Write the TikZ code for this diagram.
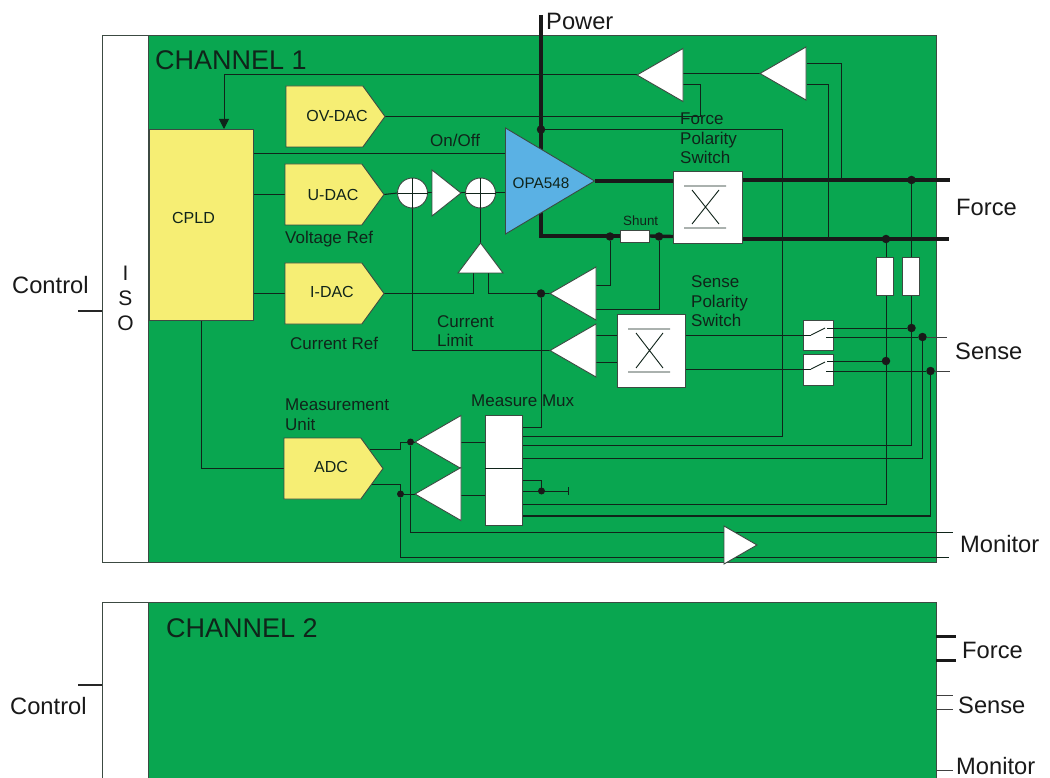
\documentclass[tikz,border=0pt]{standalone}
\usepackage{fontspec}
\setmainfont{Liberation Sans}
\usetikzlibrary{shapes.geometric,shapes.symbols,arrows.meta}
\pgfdeclarelayer{bg}\pgfdeclarelayer{wires}
\pgfsetlayers{bg,wires,main}
\definecolor{chgreen}{HTML}{09A650}
\definecolor{dacyellow}{HTML}{F6EE74}
\definecolor{opablue}{HTML}{5AB1E4}
\definecolor{ink}{HTML}{10241A}
\definecolor{edge}{HTML}{3C4A42}
\newcommand{\fs}[1]{\fontsize{#1}{#1}\selectfont}
\newcommand{\fsl}[2]{\fontsize{#1}{#2}\selectfont}
\newcommand{\bx}[6]{\node[#6,minimum width={(#4-#2)*1pt},minimum height={(#5-#3)*1pt}] (#1) at ({(#2+#4)/2},{(#3+#5)/2}) {};}
\tikzset{
  boxed/.style={rectangle,draw=edge,line width=0.9pt,inner sep=0pt,outer sep=0pt},
  whitebox/.style={boxed,fill=white},
  yellowbox/.style={boxed,fill=dacyellow},
  greenbox/.style={boxed,fill=chgreen},
  dac/.style={signal,signal to=east,signal pointer angle=108,draw=edge,fill=dacyellow,line width=0.9pt,inner sep=0pt,outer sep=0pt,minimum width=99pt,minimum height=61pt,text=ink,font=\fs{16},anchor=east},
  amp/.style={isosceles triangle,isosceles triangle stretches,draw=edge,fill=white,line width=0.9pt,inner sep=0pt,outer sep=0pt,shape border rotate=#1,minimum width=53pt,minimum height=46pt},
  amp/.default=180,
  sumnode/.style={circle,draw=edge,fill=white,line width=0.9pt,inner sep=0pt,outer sep=0pt,minimum size=30pt},
  dot/.style={circle,fill=black!90,draw=none,inner sep=0pt,outer sep=0pt,minimum size=8.5pt},
  wire/.style={draw=ink,line width=1pt},
  power/.style={draw=black!90,line width=3.4pt},
  inbox/.style={draw=ink,line width=0.9pt},
  ext/.style={draw=black!75,line width=1pt},
  lab/.style={text=ink,font=\fsl{17}{19.5},inner sep=0pt,anchor=west,align=left},
  big/.style={text=black!90,font=\fs{23.7},inner sep=0pt,anchor=west},
}
\begin{document}
\begin{tikzpicture}[x=1pt,y=-1pt]
\useasboundingbox (0,0) rectangle (1050,778);
\begin{pgfonlayer}{bg}
\fill[white] (0,0) rectangle (1050,778);
\bx{iso1}{102}{35}{148}{562}{whitebox}
\bx{ch1}{148}{35}{936}{562}{greenbox}
\bx{iso2}{102}{602}{148}{790}{whitebox}
\bx{ch2}{148}{602}{936}{790}{greenbox}
\end{pgfonlayer}
% channel 1 blocks
\bx{cpld}{149}{129}{253}{320}{yellowbox}
\node[font=\fs{16},text=ink] (cpldt) at (193.5,217.5) {CPLD};
\node[dac] (ovdac) at (385,116.5) {};
\node[font=\fs{16},text=ink] (ovt) at (337,116) {OV-DAC};
\node[dac] (udac) at (384,194.5) {};
\node[font=\fs{16},text=ink] (ut) at (333,194.5) {U-DAC};
\node[dac] (idac) at (384,293.5) {};
\node[font=\fs{16},text=ink] (it) at (332,292) {I-DAC};
\node[dac] (adc) at (383,468.5) {};
\node[font=\fs{16},text=ink] (adct) at (331,466.5) {ADC};
\node[isosceles triangle,isosceles triangle stretches,draw=edge,fill=opablue,line width=0.9pt,inner sep=0pt,outer sep=0pt,minimum width=106pt,minimum height=89pt,anchor=apex] (opa) at (594.5,181) {};
\node[font=\fs{15.3},text=ink] (opat) at (541,183) {OPA548};
\node[amp,anchor=apex] (t1) at (637,75) {};
\node[amp,anchor=apex] (t2) at (760,73.5) {};
\node[amp,anchor=apex] (t3) at (550,350.5) {};
\node[amp,anchor=apex] (t4) at (550,293.5) {};
\node[amp,anchor=apex] (t7) at (415,442) {};
\node[amp,anchor=apex] (t8) at (415,494) {};
\node[amp=0,anchor=apex,minimum width=46pt,minimum height=29pt] (t6) at (461,193) {};
\node[amp=0,anchor=apex,minimum width=38pt,minimum height=33pt] (t9) at (757,545) {};
\node[amp=90,anchor=apex,minimum width=45pt,minimum height=30pt] (t5) at (480.5,243) {};
\node[sumnode] (s1) at (412.5,193) {};
\node[sumnode] (s2) at (480.5,193) {};
\draw[inbox] (s1.north)--(s1.south) (s1.west)--(s1.east) (s2.north)--(s2.south) (s2.west)--(s2.east);
\bx{fps}{673}{171}{742}{243}{whitebox}
\bx{sps}{617}{314}{685}{387}{whitebox}
\coordinate (fa) at (684,186); \coordinate (fb) at (726,186);
\coordinate (fc) at (684,228); \coordinate (fd) at (726,228);
\coordinate (fe) at (692,190); \coordinate (ff) at (719,224);
\coordinate (fg) at (719,190); \coordinate (fh) at (692,224);
\draw[inbox] (fa)--(fb) (fc)--(fd) (fe)--(ff) (fg)--(fh);
\coordinate (sa) at (628,329); \coordinate (sb) at (670,329);
\coordinate (sc) at (628,372); \coordinate (sd) at (670,372);
\coordinate (se) at (636,333); \coordinate (sf) at (663,368);
\coordinate (sg) at (663,333); \coordinate (sh) at (636,368);
\draw[inbox] (sa)--(sb) (sc)--(sd) (se)--(sf) (sg)--(sh);
\bx{shunt}{620}{230}{649}{242}{whitebox}
\bx{r1}{876}{257}{893}{295}{whitebox}
\bx{r2}{902}{257}{919}{295}{whitebox}
\bx{sw1}{803}{320}{833}{350}{whitebox}
\bx{sw2}{803}{354}{833}{385}{whitebox}
\bx{mux}{485}{415}{522}{525}{whitebox}
\coordinate (muxl) at (485,468); \coordinate (muxr) at (522,468);
\draw[inbox] (muxl)--(muxr);
% junctions
\node[dot] (dp) at (541,129.5) {};
\node[dot] (ds1) at (610,236.5) {};
\node[dot] (ds2) at (659,236.5) {};
\node[dot] (df1) at (911.5,180) {};
\node[dot] (df2) at (886,239) {};
\node[dot] (di) at (541,293.5) {};
\node[dot] (dn1) at (911.5,328) {};
\node[dot] (dn2) at (922.5,337) {};
\node[dot] (dn3) at (886,361) {};
\node[dot] (dn4) at (930.5,371) {};
\node[dot,minimum size=7pt] (da1) at (410.5,442) {};
\node[dot,minimum size=7pt] (da2) at (400.5,494) {};
\node[dot,minimum size=7pt] (dm) at (541.5,491) {};
% switch contacts (on top of white boxes)
\coordinate (c1a) at (811,335); \coordinate (c1b) at (825,328);
\coordinate (c2a) at (811,369); \coordinate (c2b) at (825,362);
\draw[inbox] (c1a)--(c1b) (c2a)--(c2b);
\coordinate (c1c) at (827,328); \coordinate (c1d) at (826,337);
\coordinate (c2c) at (827,361); \coordinate (c2d) at (826,371);
\coordinate (sp1) at (686,335); \coordinate (sp2) at (686,369);
\draw[inbox] (sp1)--(c1a) (sp2)--(c2a) (c1c)--(dn1) (c1d)--(dn2) (c2c)--(dn3) (c2d)--(dn4);
\coordinate (mp1) at (522,427); \coordinate (mp2) at (522,436); \coordinate (mp3) at (522,445);
\coordinate (mp4) at (522,458); \coordinate (mp5) at (522,480); \coordinate (mp6) at (522,491);
\coordinate (mp7) at (522,504); \coordinate (mp8) at (522,516);
\begin{pgfonlayer}{wires}
\coordinate (pw) at (541,15);
\coordinate (opatop) at (541,152); \coordinate (opabot) at (541,212);
\coordinate (fsl) at (673,181); \coordinate (fsr) at (742,180); \coordinate (fu) at (950,180);
\coordinate (fsl2) at (673,236.5); \coordinate (fsr2) at (742,239); \coordinate (fl) at (949,239);
\draw[power] (pw)--(opatop);
\draw[power] (opa.apex)--(fsl);
\draw[power] (fsr)--(fu);
\draw[power] (fsr2)--(fl);
\draw[power] (opabot)|-(shunt.west);
\draw[power] (shunt.east)--(fsl2);
% feedback amps
\coordinate (ct) at (224,129);
\coordinate (t1p1) at (683,73.5); \coordinate (t1p2) at (683,85); \coordinate (b1) at (700,85);
\coordinate (t2p1) at (807,63.5); \coordinate (t2p2) at (807,85);
\coordinate (b2) at (841,180); \coordinate (b3) at (828,239);
\draw[wire] (t2.apex)--(t1p1);
\draw[wire,-{Triangle[length=10pt,width=10pt]}] (t1.apex)-|(ct);
\draw[wire] (t1p2)--(b1)|-(ovdac.east);
\draw[wire] (t2p1)-|(b2);
\draw[wire] (t2p2)-|(b3);
\coordinate (onl) at (253,154); \coordinate (onr) at (505,154);
\draw[wire] (onl)--(onr);
\coordinate (cu) at (253,194.5); \coordinate (ci) at (253,293.5); \coordinate (cb) at (201,320);
\draw[wire] (cu)--(udac.west|-cu) (ci)--(idac.west|-ci);
\draw[wire] (cb)|-(adc.west);
\draw[wire] (udac.east)--(s1.west);
\coordinate (t6l) at (432,193); \coordinate (oi) at (507,193);
\draw[wire] (s1.east)--(t6l);
\draw[wire] (t6.apex)--(s2.west);
\draw[wire] (s2.east)--(oi);
\draw[wire] (s2.south)--(t5.apex);
\draw[wire] (s1.south)|-(t3.apex);
\coordinate (t5a) at (473.5,273); \coordinate (t5b) at (488.5,273);
\draw[wire] (t5a)|-(idac.east);
\draw[wire] (t5b)|-(t4.apex);
\coordinate (t4p1) at (596,286); \coordinate (t4p2) at (596,309);
\draw[wire] (t4p1)-|(ds1);
\draw[wire] (t4p2)-|(ds2);
\coordinate (t3p1) at (596,335); \coordinate (t3p2) at (596,362);
\coordinate (sl1) at (617,335); \coordinate (sl2) at (617,362);
\draw[wire] (t3p1)--(sl1) (t3p2)--(sl2);
\draw[wire] (di)|-(mp1);
% power tap to measure mux
\coordinate (b4) at (782,129.5);
\draw[wire] (dp)--(b4)|-(mp2);
% kelvin wires
\draw[wire] (df1)--(r2.north-|df1);
\draw[wire] (df2)--(r1.north-|df2);
\coordinate (b5) at (911.5,445); \coordinate (b6) at (922.5,458);
\coordinate (b7) at (886,504); \coordinate (b8) at (930.5,516);
\draw[wire] (b5|-r2.south)--(b5)--(mp3);
\draw[wire] (b7|-r1.south)--(b7)--(mp7);
\draw[wire] (dn2)--(b6)--(mp4);
\draw[wire,line width=1.3pt] (dn4)--(b8)--(mp8);
\coordinate (mv) at (541.5,480); \coordinate (gnd) at (568,491);
\coordinate (gt) at (568,487); \coordinate (gb) at (568,495);
\draw[wire] (mp5)--(mv)--(dm);
\draw[wire] (mp6)--(gnd);
\draw[wire] (gt)--(gb);
% ADC section
\coordinate (a1) at (370,449); \coordinate (a2) at (400,449); \coordinate (a3) at (400,442);
\coordinate (a4) at (370,484); \coordinate (a5) at (400.5,484);
\draw[wire] (a1)--(a2)--(a3)--(da1);
\draw[wire] (da1)--(t7.apex);
\draw[wire] (a4)--(a5)--(da2);
\draw[wire] (da2)--(t8.apex);
\coordinate (t7b) at (461,442); \coordinate (mi1) at (485,442);
\coordinate (t8b) at (461,495); \coordinate (mi2) at (485,495);
\draw[wire] (t7b)--(mi1) (t8b)--(mi2);
\coordinate (mon1) at (953,532); \coordinate (mon2) at (949,557);
\draw[wire] (da1)|-(mon1);
\draw[wire] (da2)|-(mon2);
% external stubs
\coordinate (sn1) at (947,337); \coordinate (sn2) at (950,371);
\draw[ext] (dn2)--(sn1) (dn4)--(sn2);
\coordinate (ctl1) at (78,311); \coordinate (ctl2) at (78,685);
\draw[wire,draw=black!85,line width=1.5pt] (ctl1)--(iso1.west|-ctl1);
\draw[wire,draw=black!85,line width=1.5pt] (ctl2)--(iso2.west|-ctl2);
\coordinate (f2a) at (956,636.5); \coordinate (f2b) at (956,660);
\coordinate (s2a) at (953,695); \coordinate (s2b) at (953,709); \coordinate (m2a) at (953,770);
\draw[power,line width=3pt] (ch2.east|-f2a)--(f2a);
\draw[power,line width=3pt] (ch2.east|-f2b)--(f2b);
\draw[ext] (ch2.east|-s2a)--(s2a);
\draw[ext] (ch2.east|-s2b)--(s2b);
\draw[ext] (ch2.east|-m2a)--(m2a);
\end{pgfonlayer}
% labels
\node[lab,font=\fs{27}] (lc1) at (155,60.5) {CHANNEL 1};
\node[lab,font=\fs{27}] (lc2) at (166,628.5) {CHANNEL 2};
\node[big] (lpw) at (546,21) {Power};
\node[big] (lc) at (12,285) {Control};
\node[big] (lc22) at (10,706.5) {Control};
\node[big] (lf) at (956,207.5) {Force};
\node[big] (ls) at (955,351) {Sense};
\node[big] (lm) at (960,544) {Monitor};
\node[big] (lf2) at (962,650) {Force};
\node[big] (ls2) at (958,705) {Sense};
\node[big] (lm2) at (956,766) {Monitor};
\node[text=black!90,font=\fsl{21}{25},align=center,inner sep=0pt] (liso) at (125.5,298) {I\\ S\\ O};
\node[lab] (lon) at (430,140) {On/Off};
\node[lab] (lv) at (285,239.5) {Voltage Ref};
\node[lab] (lcr) at (290,343) {Current Ref};
\node[lab,font=\fs{13.4}] (lsh) at (623,221) {Shunt};
\node[lab] (lfp) at (680,138.5) {Force\\ Polarity\\ Switch};
\node[lab] (lsp) at (691,301.5) {Sense\\ Polarity\\ Switch};
\node[lab] (lcl) at (437,331) {Current\\ Limit};
\node[lab] (lmm) at (471,401) {Measure Mux};
\node[lab] (lmu) at (285,414.5) {Measurement\\ Unit};
\end{tikzpicture}
\end{document}
